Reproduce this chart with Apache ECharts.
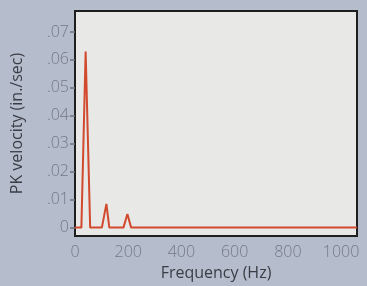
<!DOCTYPE html>
<html><head><meta charset="utf-8">
<script src="https://cdn.jsdelivr.net/npm/echarts@6/dist/echarts.min.js"></script>
<style>html,body{margin:0;padding:0;background:#b5bdcc;}#c{width:367px;height:286px;}</style>
</head><body><div id="c"></div>
<script>
const freqHz = [0, 24, 40, 57, 101, 118, 129, 182, 197, 211, 1060];
const pkVelocity = [0, 0, 0.063, 0, 0, 0.0085, 0, 0, 0.0049, 0, 0];
const yTicks = [0, 0.01, 0.02, 0.03, 0.04, 0.05, 0.06, 0.07];
const yTickLabels = ['0', '.01', '.02', '.03', '.04', '.05', '.06', '.07'];
const xTicks = [0, 200, 400, 600, 800, 1000];

const chart = echarts.init(document.getElementById('c'), null, {renderer: 'canvas'});
const font = '"Open Sans", Lato, sans-serif';
chart.setOption({
  backgroundColor: '#b5bdcc',
  animation: false,
  grid: {left: 75, top: 11, right: 10, bottom: 45, show: true, backgroundColor: '#e8e8e7', borderColor: '#1e1e1e', borderWidth: 2},
  xAxis: {
    type: 'value', min: 0, max: 1060, interval: 200,
    name: 'Frequency (Hz)', nameLocation: 'middle', nameGap: 29,
    nameTextStyle: {fontFamily: font, fontSize: 16, color: '#3a3d45'},
    axisLine: {show: false}, axisTick: {show: false}, splitLine: {show: false},
    axisLabel: {fontFamily: font, fontSize: 16, fontWeight: 300, color: '#737886', margin: 8,
      formatter: v => xTicks.includes(v) ? String(v) : ''}
  },
  yAxis: {
    type: 'value', min: -0.003, max: 0.0775,
    name: 'PK velocity (in./sec)', nameLocation: 'middle', nameGap: 50,
    nameTextStyle: {fontFamily: font, fontSize: 16, color: '#3a3d45'},
    axisLine: {show: false}, splitLine: {show: false},
    axisTick: {show: true, customValues: yTicks, length: 5, lineStyle: {color: '#6d7280', width: 1.5}},
    axisLabel: {fontFamily: font, fontSize: 16, fontWeight: 300, color: '#737886', margin: 6,
      customValues: yTicks,
      formatter: v => { const i = yTicks.findIndex(t => Math.abs(t - v) < 1e-9); return i >= 0 ? yTickLabels[i] : ''; }}
  },
  series: [{
    type: 'line', data: freqHz.map((f, i) => [f, pkVelocity[i]]),
    symbol: 'none', lineStyle: {color: '#d24a2e', width: 2}
  }]
});
</script></body></html>
